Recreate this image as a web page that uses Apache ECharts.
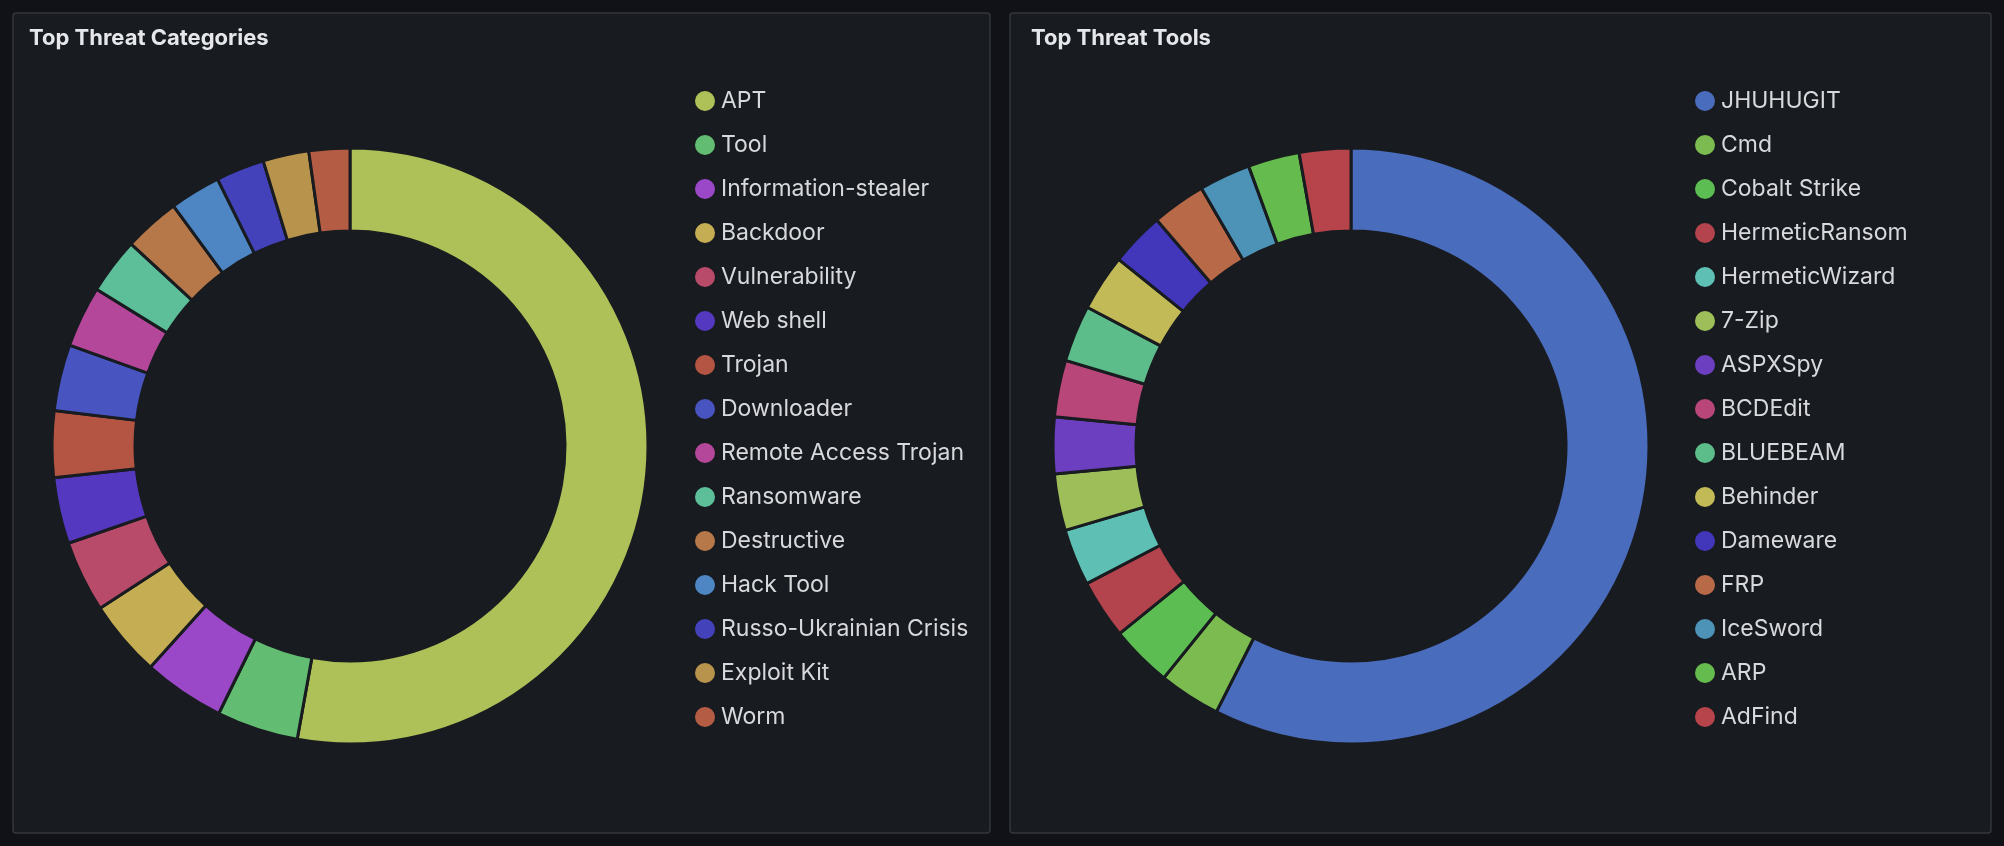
<!DOCTYPE html><html><head><meta charset="utf-8"><script src="https://cdn.jsdelivr.net/npm/echarts@6/dist/echarts.min.js"></script>
<style>html,body{margin:0;background:#111217;}#c{width:2004px;height:846px;}</style></head><body><div id="c"></div><script>
const catNames=["APT","Tool","Information-stealer","Backdoor","Vulnerability","Web shell","Trojan","Downloader","Remote Access Trojan","Ransomware","Destructive","Hack Tool","Russo-Ukrainian Crisis","Exploit Kit","Worm"];
const catValues=[191,16,16,15,14,13,13,13,12,11,11,10,9.5,9,8];
const catColors=["#aec158","#62bd73","#9b48c8","#c4ad52","#b74b69","#5538c0","#b45443","#4854c0","#b5479b","#5dbf99","#b67848","#4d86c2","#4342bb","#b8934c","#b55c45"];
const toolNames=["JHUHUGIT","Cmd","Cobalt Strike","HermeticRansom","HermeticWizard","7-Zip","ASPXSpy","BCDEdit","BLUEBEAM","Behinder","Dameware","FRP","IceSword","ARP","AdFind"];
const toolValues=[206,12,12,11.5,11,11,11,11,11,11,10.5,10.5,10,10,10];
const toolColors=["#4a6cbd","#7bbb4f","#5cbd52","#b3434c","#5ec0b4","#9dbe58","#6c3fc0","#b94679","#5dbd8a","#c2b957","#4236bb","#b86a48","#4d93b8","#65bb4d","#b7444a"];
const ch=echarts.init(document.getElementById('c'));
const mk=(n,v,c)=>n.map((x,i)=>({name:x,value:v[i],itemStyle:{color:c[i]}}));
const legend=(left,names)=>({data:names,orient:'vertical',left:left,top:84,itemGap:20,itemWidth:22,itemHeight:22,icon:'circle',
 textStyle:{color:'#d8d9dc',fontSize:23,fontFamily:'Inter',width:260,overflow:'truncate',ellipsis:'...'},formatter:n=>n});
const pie=(cx,d)=>({type:'pie',center:[cx,446],radius:[215,298],startAngle:90,clockwise:true,label:{show:false},emphasis:{disabled:true},
 itemStyle:{borderColor:'#181b1f',borderWidth:3},data:d});
ch.setOption({backgroundColor:'#111217',animation:false,
 graphic:[{type:'rect',shape:{x:13,y:13,width:977,height:820,r:3},style:{fill:'#181b1f',stroke:'#34363c',lineWidth:1.5},z:-1},
  {type:'rect',shape:{x:1010,y:13,width:981,height:820,r:3},style:{fill:'#181b1f',stroke:'#34363c',lineWidth:1.5},z:-1}],
 title:[{text:'Top Threat Categories',left:24,top:22,textStyle:{color:'#e6e7ea',fontSize:22,fontWeight:'bold',fontFamily:'Inter'}},
  {text:'Top Threat Tools',left:1026,top:22,textStyle:{color:'#e6e7ea',fontSize:22,fontWeight:'bold',fontFamily:'Inter'}}],
 legend:[legend(688,catNames),legend(1688,toolNames)],
 series:[pie(350,mk(catNames,catValues,catColors)),pie(1351,mk(toolNames,toolValues,toolColors))]});
</script></body></html>
